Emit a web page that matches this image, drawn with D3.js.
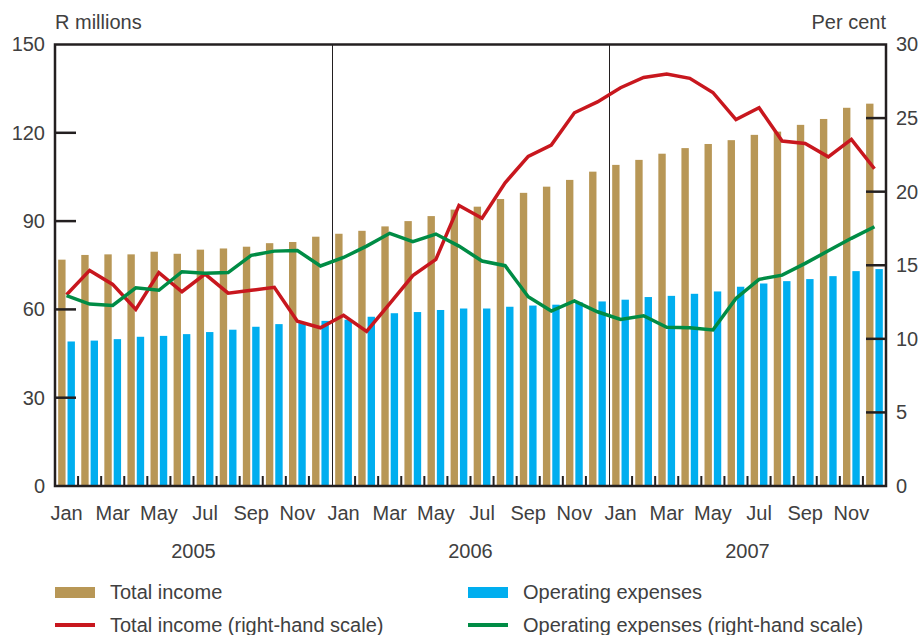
<!DOCTYPE html>
<html>
<head>
<meta charset="utf-8">
<script src="https://cdn.jsdelivr.net/npm/d3@7"></script>
<style>
  html, body { margin: 0; padding: 0; background: #fff; }
  svg { display: block; font-family: "Liberation Sans", Arial, Helvetica, sans-serif; }
</style>
</head>
<body>
<svg id="chart" width="919" height="635"></svg>
<script>
// ---- Data ----
const years = ["2005", "2006", "2007"];
const monthNames = ["Jan","Feb","Mar","Apr","May","Jun","Jul","Aug","Sep","Oct","Nov","Dec"];
const monthLabels = ["Jan","Mar","May","Jul","Sep","Nov"];
const leftTicks = [0, 30, 60, 90, 120, 150];
const rightTicks = [0, 5, 10, 15, 20, 25, 30];

// Total income, R millions (bars, left scale)
const totalIncome = [
  76.9, 78.5, 78.7, 78.7, 79.6, 78.9, 80.3, 80.7, 81.3, 82.5, 82.9, 84.7,
  85.7, 86.7, 88.2, 90.0, 91.7, 93.9, 94.9, 97.5, 99.6, 101.7, 104.0, 106.8,
  109.1, 110.8, 112.9, 114.8, 116.2, 117.5, 119.3, 120.4, 122.7, 124.7, 128.5, 129.9
];
// Operating expenses, R millions (bars, left scale)
const operatingExpenses = [
  49.1, 49.4, 49.9, 50.7, 51.0, 51.6, 52.3, 53.1, 54.1, 55.0, 55.3, 56.1,
  56.5, 57.5, 58.7, 59.1, 59.8, 60.3, 60.3, 60.9, 61.3, 61.6, 62.4, 62.7,
  63.3, 64.2, 64.6, 65.3, 66.1, 67.7, 68.8, 69.6, 70.3, 71.3, 73.0, 73.7
];
// Total income, per cent (line, right-hand scale)
const totalIncomePct = [
  13.0, 14.65, 13.7, 12.0, 14.5, 13.2, 14.4, 13.1, 13.3, 13.5, 11.2, 10.75,
  11.6, 10.5, 12.4, 14.3, 15.4, 19.07, 18.2, 20.6, 22.4, 23.17, 25.36, 26.1,
  27.06, 27.76, 27.99, 27.7, 26.74, 24.9, 25.7, 23.44, 23.28, 22.37, 23.55, 21.56
];
// Operating expenses, per cent (line, right-hand scale)
const operatingExpensesPct = [
  12.93, 12.36, 12.27, 13.47, 13.3, 14.56, 14.45, 14.5, 15.67, 15.96, 16.0, 14.95,
  15.53, 16.3, 17.17, 16.6, 17.12, 16.3, 15.29, 14.97, 12.86, 11.89, 12.57, 11.84,
  11.32, 11.57, 10.78, 10.76, 10.6, 12.75, 14.04, 14.33, 15.13, 15.98, 16.83, 17.62
];
const legendItems = [
  { label: "Total income", type: "rect", color: "#B89756" },
  { label: "Operating expenses", type: "rect", color: "#00AEEF" },
  { label: "Total income (right-hand scale)", type: "line", color: "#C8171E" },
  { label: "Operating expenses (right-hand scale)", type: "line", color: "#008C45" }
];

// ---- Layout ----
const W = 919, H = 635;
const plot = { left: 55, right: 886, top: 44.5, bottom: 486 };
const C = { gold: "#B89756", blue: "#00AEEF", red: "#C8171E", green: "#008C45", axis: "#231F20", text: "#404040" };
const FS = 20;

const svg = d3.select("#chart");
const idx = d3.range(totalIncome.length);

const x = d3.scaleBand().domain(idx).range([plot.left, plot.right]).padding(0);
const xSub = d3.scaleBand().domain(["inc", "exp"]).range([0, x.bandwidth()])
  .paddingInner(0.21).paddingOuter(0.34);
const yL = d3.scaleLinear().domain([0, 150]).range([plot.bottom, plot.top]);
const yR = d3.scaleLinear().domain([0, 30]).range([plot.bottom, plot.top]);

// Bars
svg.append("g").selectAll("rect.inc").data(idx).join("rect")
  .attr("x", i => x(i) + xSub("inc"))
  .attr("width", xSub.bandwidth())
  .attr("y", i => yL(totalIncome[i]))
  .attr("height", i => yL(0) - yL(totalIncome[i]))
  .attr("fill", C.gold);
svg.append("g").selectAll("rect.exp").data(idx).join("rect")
  .attr("x", i => x(i) + xSub("exp"))
  .attr("width", xSub.bandwidth())
  .attr("y", i => yL(operatingExpenses[i]))
  .attr("height", i => yL(0) - yL(operatingExpenses[i]))
  .attr("fill", C.blue);

// Year separators
svg.append("g").selectAll("line").data([12, 24]).join("line")
  .attr("x1", i => Math.round(x(i)) + 0.5).attr("x2", i => Math.round(x(i)) + 0.5)
  .attr("y1", plot.top).attr("y2", plot.bottom)
  .attr("stroke", C.axis).attr("stroke-width", 1);

// Lines
const cx = i => x(i) + x.bandwidth() / 2;
const lineR = d3.line().x(d => cx(d[0])).y(d => yR(d[1]));
svg.append("path").datum(totalIncomePct.map((v, i) => [i, v]))
  .attr("d", lineR).attr("fill", "none").attr("stroke", C.red)
  .attr("stroke-width", 3.5).attr("stroke-linejoin", "miter");
svg.append("path").datum(operatingExpensesPct.map((v, i) => [i, v]))
  .attr("d", lineR).attr("fill", "none").attr("stroke", C.green)
  .attr("stroke-width", 3.5).attr("stroke-linejoin", "miter");

// Bottom month ticks (small upward ticks between months)
svg.append("g").selectAll("line").data(d3.range(1, idx.length).filter(i => i % 12 !== 0)).join("line")
  .attr("x1", i => x(i)).attr("x2", i => x(i))
  .attr("y1", plot.bottom).attr("y2", plot.bottom - 10)
  .attr("stroke", C.axis).attr("stroke-width", 2);

// Left axis
const gL = svg.append("g").attr("transform", `translate(${plot.left},0)`)
  .call(d3.axisLeft(yL).tickValues(leftTicks).tickSize(0).tickPadding(10));
gL.select(".domain").remove();
gL.selectAll("text").attr("font-size", FS).attr("fill", C.text)
  .attr("font-family", "Liberation Sans, Arial, sans-serif");
svg.append("g").selectAll("line").data(leftTicks.filter(v => v > 0 && v < 150)).join("line")
  .attr("x1", plot.left).attr("x2", plot.left + 21)
  .attr("y1", v => yL(v)).attr("y2", v => yL(v))
  .attr("stroke", C.axis).attr("stroke-width", 2.5);

// Right axis
const gR = svg.append("g").attr("transform", `translate(${plot.right},0)`)
  .call(d3.axisRight(yR).tickValues(rightTicks).tickSize(0).tickPadding(10));
gR.select(".domain").remove();
gR.selectAll("text").attr("font-size", FS).attr("fill", C.text)
  .attr("font-family", "Liberation Sans, Arial, sans-serif");
svg.append("g").selectAll("line").data(rightTicks.filter(v => v > 0 && v < 30)).join("line")
  .attr("x1", plot.right).attr("x2", plot.right - 20)
  .attr("y1", v => yR(v)).attr("y2", v => yR(v))
  .attr("stroke", C.axis).attr("stroke-width", 2.5);

// Frame
svg.append("rect")
  .attr("x", plot.left).attr("y", plot.top)
  .attr("width", plot.right - plot.left).attr("height", plot.bottom - plot.top)
  .attr("fill", "none").attr("stroke", C.axis).attr("stroke-width", 2.5);

// Month labels
const gX = svg.append("g").attr("transform", `translate(0,${plot.bottom})`)
  .call(d3.axisBottom(x).tickValues(idx.filter(i => i % 2 === 0))
    .tickFormat(i => monthLabels[(i % 12) / 2]).tickSize(0).tickPadding(20));
gX.select(".domain").remove();
gX.selectAll("text").attr("font-size", FS).attr("fill", C.text)
  .attr("font-family", "Liberation Sans, Arial, sans-serif");

// Year labels
svg.append("g").selectAll("text").data(years).join("text")
  .attr("x", (d, k) => x(k * 12 + 6))
  .attr("y", 558)
  .attr("text-anchor", "middle")
  .attr("font-size", FS).attr("fill", C.text)
  .text(d => d);

// Axis titles
svg.append("text").attr("x", plot.left).attr("y", 29)
  .attr("font-size", FS).attr("fill", C.text).text("R millions");
svg.append("text").attr("x", plot.right).attr("y", 29).attr("text-anchor", "end")
  .attr("font-size", FS).attr("fill", C.text).text("Per cent");

// Legend
const legPos = [[55, 592], [468, 592], [55, 625], [468, 625]];
const lg = svg.append("g").selectAll("g").data(legendItems).join("g")
  .attr("transform", (d, k) => `translate(${legPos[k][0]},${legPos[k][1]})`);
lg.filter(d => d.type === "rect").append("rect")
  .attr("x", 0).attr("y", -5).attr("width", 40).attr("height", 11).attr("fill", d => d.color);
lg.filter(d => d.type === "line").append("line")
  .attr("x1", 0).attr("x2", 40).attr("y1", 0).attr("y2", 0)
  .attr("stroke", d => d.color).attr("stroke-width", 4);
lg.append("text").attr("x", 55).attr("y", 0).attr("dy", "0.35em")
  .attr("font-size", FS).attr("fill", C.text).text(d => d.label);
</script>
</body>
</html>
